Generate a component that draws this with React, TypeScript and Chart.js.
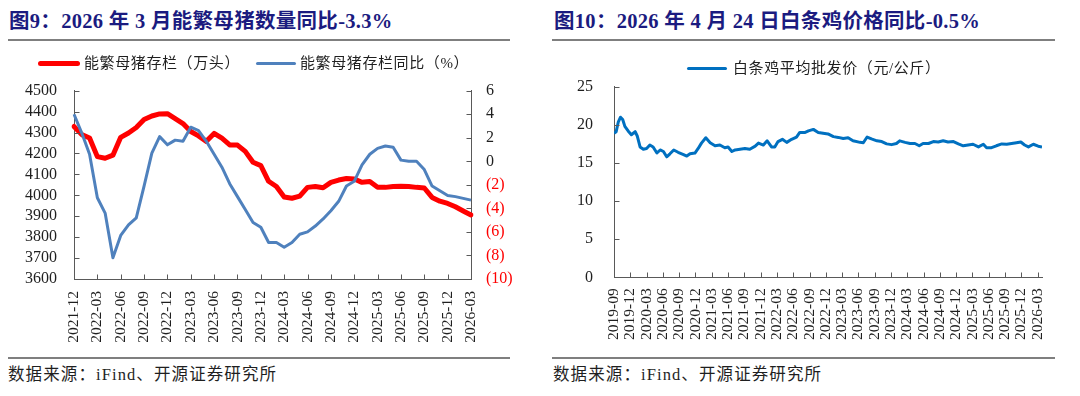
import React, { useEffect, useRef } from "react";
import { Chart, registerables } from "chart.js";
Chart.register(...registerables);

// ---------- data: figure 9 (sow inventory) ----------
const sowMonths = [
  "2021-12",
  "2022-01", "2022-02", "2022-03", "2022-04", "2022-05", "2022-06", "2022-07", "2022-08", "2022-09", "2022-10", "2022-11", "2022-12",
  "2023-01", "2023-02", "2023-03", "2023-04", "2023-05", "2023-06", "2023-07", "2023-08", "2023-09", "2023-10", "2023-11", "2023-12",
  "2024-01", "2024-02", "2024-03", "2024-04", "2024-05", "2024-06", "2024-07", "2024-08", "2024-09", "2024-10", "2024-11", "2024-12",
  "2025-01", "2025-02", "2025-03", "2025-04", "2025-05", "2025-06", "2025-07", "2025-08", "2025-09", "2025-10", "2025-11", "2025-12",
  "2026-01", "2026-02", "2026-03",
];
const sowInventory = [
  4329, 4290, 4274, 4185, 4177, 4192, 4277, 4298, 4324, 4362, 4379, 4389,
  4390, 4367, 4343, 4305, 4284, 4258, 4296, 4273, 4241, 4240, 4210, 4158,
  4142, 4067, 4042, 3992, 3986, 3996, 4038, 4042, 4036, 4062, 4073, 4080,
  4078, 4062, 4066, 4039, 4038, 4042, 4043, 4042, 4038, 4035, 3990, 3972,
  3961, 3945, 3925, 3906,
];
const sowYoY = [
  4.0, 2.4, 0.6, -3.1, -4.4, -8.2, -6.3, -5.4, -4.8, -2.1, 0.7, 2.1,
  1.4, 1.8, 1.7, 2.9, 2.6, 1.7, 0.6, -0.5, -1.9, -3.0, -4.1, -5.2,
  -5.6, -6.9, -6.9, -7.3, -6.9, -6.2, -6.0, -5.5, -4.9, -4.2, -3.4, -2.1,
  -1.7, -0.3, 0.6, 1.1, 1.3, 1.2, 0.1, 0.0, 0.0, -0.7, -2.1, -2.5,
  -2.9, -3.0, -3.15, -3.3,
];

// ---------- data: figure 10 (white-strip chicken price) ----------
// x: months elapsed since 2019-09
const chickenMonthOffset = [
  0, 0.4, 0.8, 1.2, 1.6, 2.0, 2.6, 3.2, 3.9, 4.3, 4.8, 5.4, 6.0, 6.6, 7.2, 7.9, 8.5, 9.1, 9.7, 10.3,
  11.0, 11.8, 12.8, 13.4, 14.0, 14.9, 15.5, 16.1, 16.9, 17.7, 18.6, 19.5, 20.4, 21.0, 21.7, 22.3, 23.2, 24.1, 25.0, 26.0,
  26.6, 27.5, 28.2, 29.0, 29.6, 30.2, 31.0, 31.8, 32.7, 33.6, 34.2, 35.2, 35.8, 36.7, 37.6, 38.5, 39.4, 40.4, 41.3, 42.2,
  43.1, 44.0, 45.3, 45.9, 46.6, 47.4, 48.4, 49.3, 50.2, 51.1, 52.0, 52.6, 53.6, 54.5, 55.4, 56.2, 56.9, 57.9, 58.8, 59.7,
  60.6, 61.5, 62.5, 63.4, 64.3, 65.2, 66.1, 67.1, 68.0, 68.6, 69.5, 70.4, 71.4, 72.3, 73.2, 74.1, 74.9, 75.6, 76.3, 77.2,
  78.1, 78.8,
];
const chickenPrice = [
  18.9, 19.1, 20.4, 21.0, 20.7, 19.8, 19.2, 18.7, 19.1, 18.5, 17.1, 16.8, 16.9, 17.35, 17.1, 16.3, 16.7, 16.5, 15.8, 16.2,
  16.7, 16.4, 16.1, 15.9, 16.2, 16.3, 16.9, 17.6, 18.3, 17.65, 17.25, 17.35, 17.0, 17.1, 16.5, 16.7, 16.8, 16.9, 16.8, 17.2,
  17.6, 17.35, 17.9, 17.1, 17.1, 17.8, 18.1, 17.7, 18.1, 18.4, 19.0, 19.0, 19.2, 19.4, 19.0, 18.9, 18.8, 18.45, 18.35, 18.2,
  18.3, 17.9, 17.7, 17.65, 18.4, 18.15, 17.9, 17.8, 17.5, 17.4, 17.55, 17.9, 17.7, 17.55, 17.55, 17.25, 17.55, 17.55, 17.8, 17.75,
  17.9, 17.75, 17.8, 17.5, 17.25, 17.35, 17.45, 17.1, 17.45, 17.0, 17.0, 17.25, 17.5, 17.45, 17.55, 17.65, 17.75, 17.35, 17.1, 17.45,
  17.2, 17.1,
];
const chickenTickLabels = [
  "2019-09", "2019-12",
  "2020-03", "2020-06", "2020-09", "2020-12",
  "2021-03", "2021-06", "2021-09", "2021-12",
  "2022-03", "2022-06", "2022-09", "2022-12",
  "2023-03", "2023-06", "2023-09", "2023-12",
  "2024-03", "2024-06", "2024-09", "2024-12",
  "2025-03", "2025-06", "2025-09", "2025-12",
  "2026-03",
];

// ---------- style ----------
const SERIF = '"Liberation Serif", "Times New Roman", serif';
const MIXED = '"Liberation Serif", "Noto Sans CJK SC", sans-serif';
const AXIS = "#595959";
const TXT = "#1f1f1f";
const TITLE = "#1b1b80";

type TickSpec = { id: string; len: number; skip?: (i: number) => boolean };

function innerTickPlugin(specs: TickSpec[]) {
  return {
    id: "innerTicks",
    afterDraw(chart: any) {
      const ctx = chart.ctx;
      ctx.save();
      ctx.strokeStyle = AXIS;
      ctx.lineWidth = 1;
      for (const spec of specs) {
        const scale = chart.scales[spec.id];
        if (!scale) continue;
        scale.ticks.forEach((_t: any, i: number) => {
          if (spec.skip && spec.skip(i)) return;
          const p = Math.round(scale.getPixelForTick(i)) + 0.5;
          ctx.beginPath();
          if (scale.position === "left") {
            const x = Math.round(scale.right) + 0.5;
            ctx.moveTo(x, p);
            ctx.lineTo(x + spec.len, p);
          } else if (scale.position === "right") {
            const x = Math.round(scale.left) + 0.5;
            ctx.moveTo(x, p);
            ctx.lineTo(x - spec.len, p);
          } else {
            const y = Math.round(scale.top) + 0.5;
            ctx.moveTo(p, y);
            ctx.lineTo(p, y - spec.len);
          }
          ctx.stroke();
        });
      }
      ctx.restore();
    },
  };
}

function fixWidth(w: number) {
  return (s: any) => {
    s.width = w;
    s.paddingTop = 0;
    s.paddingBottom = 0;
    s.paddingLeft = 0;
    s.paddingRight = 0;
  };
}
function fixHeight(h: number) {
  return (s: any) => {
    s.height = h;
    s.paddingTop = 0;
    s.paddingBottom = 0;
    s.paddingLeft = 0;
    s.paddingRight = 0;
  };
}

const noGrid = { display: false, drawTicks: false, drawOnChartArea: false };
const border = { display: true, color: AXIS, width: 1 };

function SowChart() {
  const ref = useRef<HTMLCanvasElement | null>(null);
  useEffect(() => {
    if (!ref.current) return;
    const chart = new Chart(ref.current, {
      type: "line",
      data: {
        labels: sowMonths,
        datasets: [
          {
            label: "能繁母猪存栏（万头）",
            data: sowInventory,
            yAxisID: "y",
            borderColor: "#FF0000",
            backgroundColor: "#FF0000",
            borderWidth: 5,
            pointRadius: 0,
            tension: 0,
            borderJoinStyle: "round",
            borderCapStyle: "round",
            order: 1,
          },
          {
            label: "能繁母猪存栏同比（%）",
            data: sowYoY,
            yAxisID: "y1",
            borderColor: "#4F81BD",
            backgroundColor: "#4F81BD",
            borderWidth: 3,
            pointRadius: 0,
            tension: 0,
            borderJoinStyle: "round",
            order: 0,
          },
        ],
      },
      options: {
        responsive: false,
        animation: false,
        layout: { padding: { left: 4, right: 19, top: 90.7, bottom: 8 } },
        plugins: { legend: { display: false }, tooltip: { enabled: false } },
        scales: {
          x: {
            type: "category",
            offset: false,
            grid: noGrid,
            border,
            ticks: {
              autoSkip: false,
              minRotation: 90,
              maxRotation: 90,
              padding: 12,
              color: TXT,
              font: { family: SERIF, size: 15.5 },
              callback: (_v: any, i: number) => (i % 3 === 0 ? sowMonths[i] : ""),
            },
            afterFit: fixHeight(70),
          },
          y: {
            position: "left",
            min: 3600,
            max: 4500,
            grid: noGrid,
            border,
            ticks: {
              stepSize: 100,
              autoSkip: false,
              padding: 17,
              color: TXT,
              font: { family: SERIF, size: 16 },
              callback: (v: any) => String(v),
            },
            afterFit: fixWidth(70),
          },
          y1: {
            position: "right",
            min: -10,
            max: 6,
            grid: noGrid,
            border,
            ticks: {
              stepSize: 2,
              autoSkip: false,
              padding: 15,
              font: { family: SERIF, size: 16 },
              color: (c: any) => (c.tick && c.tick.value < 0 ? "#FF0000" : TXT),
              callback: (v: any) => (Number(v) < 0 ? `(${-Number(v)})` : `${v}`),
            },
            afterFit: fixWidth(50),
          },
        },
      } as any,
      plugins: [
        innerTickPlugin([
          { id: "x", len: 5, skip: (i) => i % 3 !== 0 || i === 0 },
          { id: "y", len: 5, skip: (i) => i === 0 },
          { id: "y1", len: 5, skip: (i) => i === 0 },
        ]),
      ],
    });
    return () => chart.destroy();
  }, []);
  return (
    <canvas
      ref={ref}
      width={540}
      height={357}
      style={{ position: "absolute", left: 0, top: 0, width: 540, height: 357, display: "block" }}
    />
  );
}

function ChickenChart() {
  const ref = useRef<HTMLCanvasElement | null>(null);
  useEffect(() => {
    if (!ref.current) return;
    const chart = new Chart(ref.current, {
      type: "line",
      data: {
        datasets: [
          {
            label: "白条鸡平均批发价（元/公斤）",
            data: chickenMonthOffset.map((m, i) => ({ x: m, y: chickenPrice[i] })),
            borderColor: "#0070C0",
            backgroundColor: "#0070C0",
            borderWidth: 3,
            pointRadius: 0,
            tension: 0,
            borderJoinStyle: "round",
          },
        ],
      },
      options: {
        responsive: false,
        animation: false,
        layout: { padding: { left: 4, right: 38, top: 86.7, bottom: 9.7 } },
        plugins: { legend: { display: false }, tooltip: { enabled: false } },
        scales: {
          x: {
            type: "linear",
            min: chickenMonthOffset[0],
            max: chickenMonthOffset[chickenMonthOffset.length - 1],
            grid: noGrid,
            border,
            afterBuildTicks: (s: any) => {
              s.ticks = chickenTickLabels.map((_l, i) => ({ value: i * 3 }));
            },
            ticks: {
              autoSkip: false,
              minRotation: 90,
              maxRotation: 90,
              padding: 11,
              color: TXT,
              font: { family: SERIF, size: 15.5 },
              callback: (v: any) => chickenTickLabels[Math.round(Number(v) / 3)] ?? "",
            },
            afterFit: fixHeight(70),
          },
          y: {
            position: "left",
            min: 0,
            max: 25,
            grid: noGrid,
            border,
            ticks: {
              stepSize: 5,
              autoSkip: false,
              padding: 21,
              color: TXT,
              font: { family: SERIF, size: 16 },
              callback: (v: any) => String(v),
            },
            afterFit: fixWidth(70),
          },
        },
      } as any,
      plugins: [
        innerTickPlugin([
          { id: "x", len: 5, skip: (i) => i === 0 },
          { id: "y", len: 5, skip: (i) => i === 0 },
        ]),
      ],
    });
    return () => chart.destroy();
  }, []);
  return (
    <canvas
      ref={ref}
      width={540}
      height={357}
      style={{ position: "absolute", left: 540, top: 0, width: 540, height: 357, display: "block" }}
    />
  );
}

function LegendItem(props: {
  left: number;
  cy: number;
  color: string;
  width: number;
  thickness: number;
  gap: number;
  text: string;
}) {
  const { left, cy, color, width, thickness, gap, text } = props;
  return (
    <div
      style={{
        position: "absolute",
        left,
        top: cy - 11,
        height: 22,
        display: "flex",
        alignItems: "center",
        whiteSpace: "nowrap",
      }}
    >
      <span
        style={{
          display: "inline-block",
          width,
          height: thickness,
          background: color,
          borderRadius: thickness / 2,
        }}
      />
      <span
        style={{
          marginLeft: gap,
          fontSize: 15,
          letterSpacing: 0.6,
          color: TXT,
          fontFamily: MIXED,
          lineHeight: "22px",
        }}
      >
        {text}
      </span>
    </div>
  );
}

function Rule(props: { left: number; top: number; width: number }) {
  return (
    <div
      style={{
        position: "absolute",
        left: props.left,
        top: props.top,
        width: props.width,
        height: 1.5,
        background: "#7f7f7f",
      }}
    />
  );
}

const titleStyle: React.CSSProperties = {
  position: "absolute",
  top: 8,
  fontFamily: MIXED,
  fontWeight: "bold",
  fontSize: 20.5,
  letterSpacing: 0.3,
  lineHeight: "26px",
  color: TITLE,
  whiteSpace: "pre",
};

const sourceStyle: React.CSSProperties = {
  position: "absolute",
  top: 363,
  fontFamily: MIXED,
  fontSize: 16.5,
  letterSpacing: 1.1,
  lineHeight: "24px",
  color: TXT,
  whiteSpace: "pre",
};

export default function App() {
  return (
    <div
      style={{
        position: "absolute",
        left: 0,
        top: 0,
        width: 1080,
        height: 396,
        background: "#ffffff",
        overflow: "hidden",
      }}
    >
      <div style={{ ...titleStyle, left: 9 }}>图9：2026 年 3 月能繁母猪数量同比-3.3%</div>
      <div style={{ ...titleStyle, left: 554 }}>图10：2026 年 4 月 24 日白条鸡价格同比-0.5%</div>
      <Rule left={8} top={39} width={502} />
      <Rule left={552} top={39} width={503} />

      <SowChart />
      <ChickenChart />

      <LegendItem left={38} cy={63} color="#FF0000" width={42} thickness={5} gap={4} text="能繁母猪存栏（万头）" />
      <LegendItem left={256} cy={63} color="#4F81BD" width={40} thickness={3} gap={4} text="能繁母猪存栏同比（%）" />
      <LegendItem left={687} cy={68} color="#0070C0" width={40} thickness={3} gap={6} text="白条鸡平均批发价（元/公斤）" />

      <Rule left={8} top={357} width={502} />
      <Rule left={552} top={357} width={503} />
      <div style={{ ...sourceStyle, left: 8 }}>数据来源：iFind、开源证券研究所</div>
      <div style={{ ...sourceStyle, left: 553 }}>数据来源：iFind、开源证券研究所</div>
    </div>
  );
}
